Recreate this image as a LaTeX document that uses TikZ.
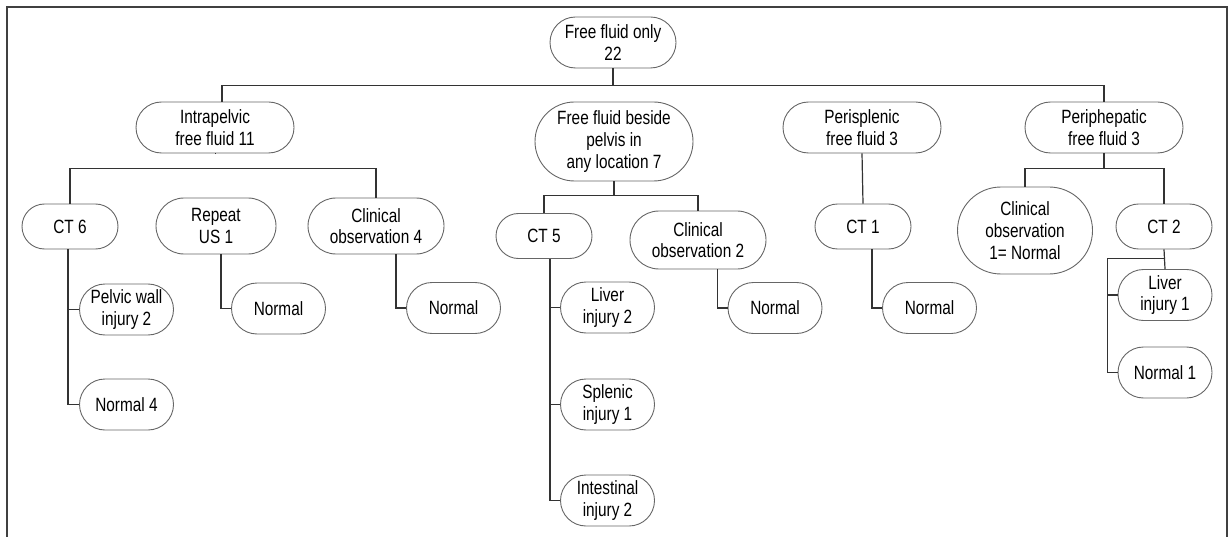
\documentclass[tikz,border=0pt]{standalone}
\usepackage{fontspec}
\setmainfont{Liberation Sans}[FakeStretch=0.8]
\usetikzlibrary{shapes.misc,calc}
\begin{document}
\begin{tikzpicture}[x=1pt,y=1pt,
	box/.style={rounded rectangle,draw=black!60,line width=0.9pt,align=center,inner sep=1pt,text=black,font=\fontsize{19.2}{21.7}\selectfont},
	head/.style={box,minimum width=160,minimum height=51},
	ctbox/.style={box,minimum width=98,minimum height=45},
	leaf/.style={box,minimum width=96,minimum height=51},
	link/.style={draw=black!80,line width=1.2pt}]
	\useasboundingbox (0,0) rectangle (1230,-537);
	\draw[black!75,line width=2pt] (7,-537) -- (7,-7.5) -- (1227,-7.5) -- (1227,-537);

	\node[box,minimum width=128,minimum height=51] (root) at (613,-42.5) {Free fluid only\\22};
	\node[head] (intra) at (215,-127.5) {Intrapelvic\\free fluid 11};
	\node[head,minimum height=79] (beside) at (614,-141.5) {Free fluid beside\\pelvis in\\any location 7};
	\node[head] (spleen) at (862,-127.5) {Perisplenic\\free fluid 3};
	\node[head] (hepa) at (1104,-127.5) {Periphepatic\\free fluid 3};

	\node[ctbox] (ct6) at (70,-226.5) {CT 6};
	\node[box,minimum width=122,minimum height=56] (repeat) at (216,-226) {Repeat\\US 1};
	\node[box,minimum width=138,minimum height=56] (obs4) at (376,-226) {Clinical\\observation 4};
	\node[ctbox] (ct5) at (544,-236) {CT 5};
	\node[box,minimum width=138,minimum height=58] (obs2) at (698,-240) {Clinical\\observation 2};
	\node[ctbox] (ct1) at (863,-226.5) {CT 1};
	\node[box,minimum width=137,minimum height=87] (obs1) at (1025,-230.5) {Clinical\\observation\\1= Normal};
	\node[ctbox] (ct2) at (1164,-226.5) {CT 2};

	\node[leaf] (pelvic) at (126.5,-309.5) {Pelvic wall\\injury 2};
	\node[leaf] (norm4) at (126.5,-404.5) {Normal 4};
	\node[leaf] (nrep) at (278.5,-308.5) {Normal};
	\node[leaf] (nobs4) at (453.5,-308) {Normal};
	\node[leaf] (liver2) at (607.5,-307.5) {Liver\\injury 2};
	\node[leaf] (splen1) at (607.5,-404.5) {Splenic\\injury 1};
	\node[leaf] (intest2) at (607.5,-500.5) {Intestinal\\injury 2};
	\node[leaf] (nobs2) at (775,-308) {Normal};
	\node[leaf] (nct1) at (929.5,-308) {Normal};
	\node[leaf] (liver1) at (1165,-295) {Liver\\injury 1};
	\node[leaf] (norm1) at (1165,-372.5) {Normal 1};

	\coordinate (bus) at ($(root.south)+(0,-17)$);
	\draw[link] (root.south) -- (bus);
	\draw[link] ($(intra.north)+(7,0)$) |- (bus) -| (hepa.north);
	\draw[link] ($(beside.north)+(-6,0)$) -- ($(beside.north)+(-6,0)$ |- bus);
	\draw[link] ($(spleen.north)+(-10,0)$) -- ($(spleen.north)+(-10,0)$ |- bus);

	\draw[link] (ct6.north) |- ($(intra.south)+(0,-15)$) -| (obs4.north);
	\draw[link] (intra.south) -- (repeat.north |- intra.south);
	\draw[link] (ct5.north) |- ($(beside.south)+(0,-14)$) -| (obs2.north);
	\draw[link] (beside.south) -- ++(0,-14);
	\draw[link] (spleen.south) -- (ct1.north);
	\draw[link] (obs1.north) |- ($(hepa.south)+(0,-15)$) -| (ct2.north);
	\draw[link] (hepa.south) -- ++(0,-15);

	\draw[link] (norm4.west) -- ++(-11,0) coordinate (t6) -- (t6 |- ct6.south);
	\draw[link] (pelvic.west) -- (pelvic.west -| t6);
	\draw[link] (nrep.west) -- ++(-10,0) coordinate (tr) -- (tr |- repeat.south);
	\draw[link] (nobs4.west) -- ++(-10,0) coordinate (t4) -- (t4 |- obs4.south);
	\draw[link] (intest2.west) -- ++(-10,0) coordinate (t5) -- (t5 |- ct5.south);
	\draw[link] (liver2.west) -- (liver2.west -| t5);
	\draw[link] (splen1.west) -- (splen1.west -| t5);
	\draw[link] (nobs2.west) -- ++(-10,0) coordinate (t2) -- (t2 |- obs2.south);
	\draw[link] (nct1.west) -- ++(-10,0) coordinate (t1) -- (t1 |- ct1.south);
	\draw[link] (ct2.south) -- (liver1.north);
	\draw[link] (norm1.west) -- ++(-10,0) coordinate (tc) |- ($(ct2.south)+(0,-9)$);
	\draw[link] (liver1.west) -- (liver1.west -| tc);
\end{tikzpicture}
\end{document}
